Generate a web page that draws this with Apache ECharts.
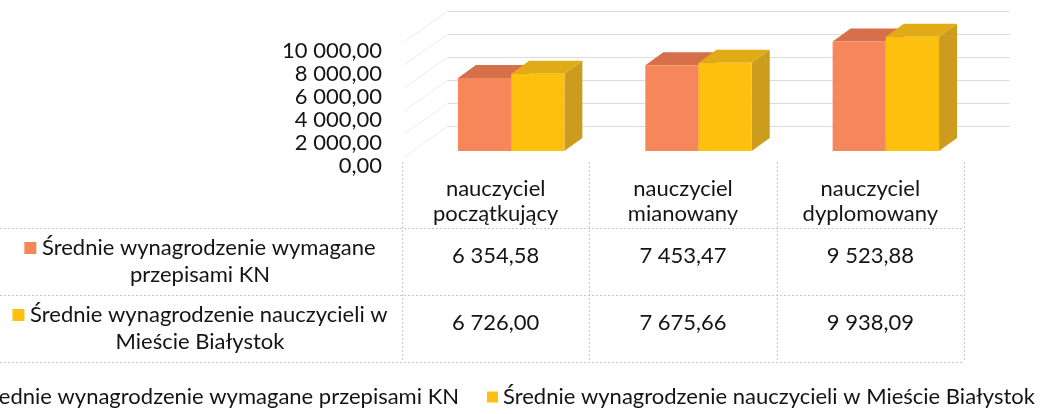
<!DOCTYPE html>
<html>
<head>
<meta charset="utf-8">
<script src="https://cdn.jsdelivr.net/npm/echarts@6/dist/echarts.min.js"></script>
<style>
html, body { margin: 0; padding: 0; background: #fff; }
#chart { width: 1044px; height: 414px; }
</style>
</head>
<body>
<div id="chart"></div>
<script>
// dane
const categories = ['nauczyciel\npoczątkujący', 'nauczyciel\nmianowany', 'nauczyciel\ndyplomowany'];
const seriesNames = ['Średnie wynagrodzenie wymagane przepisami KN', 'Średnie wynagrodzenie nauczycieli w Mieście Białystok'];
const rowLabels = ['Średnie wynagrodzenie wymagane\nprzepisami KN', 'Średnie wynagrodzenie nauczycieli w\nMieście Białystok'];
const wymagane = [6354.58, 7453.47, 9523.88];
const bialystok = [6726.00, 7675.66, 9938.09];
const yTicks = [0, 2000, 4000, 6000, 8000, 10000, 12000];

const FONT = 'Lato';
const FS = 22;
const TXT = '#141414';
const colors = [
  { front: '#F5875B', top: '#D6704B', side: '#C8643F' },
  { front: '#FEC00F', top: '#E1AB17', side: '#CB9C1D' }
];
const BAR_W = 0.284;      // część szerokości kategorii
const SHIFT = [15.5, -12]; // przód słupków względem osi
const DEPTH = [18, -13];   // głębokość 3D
const WALL = [-44, 31];    // ściana boczna
const TABLE_ROWS = [162, 228, 295, 362];
const ROW_HEAD_X = 200;

function fmt(v) {
  const p = v.toFixed(2).split('.');
  return p[0].replace(/\B(?=(\d{3})+$)/g, ' ') + ',' + p[1];
}

function barRenderer(k) {
  const c = colors[k];
  return function (params, api) {
    const i = api.value(0), v = api.value(1);
    const base = api.coord([i, 0]);
    const top = api.coord([i, v]);
    const w = api.size([1, 0])[0] * BAR_W;
    const x0 = base[0] + SHIFT[0] - w + k * w;
    const x1 = x0 + w;
    const yb = base[1] + SHIFT[1], yt = top[1] + SHIFT[1];
    const dx = DEPTH[0], dy = DEPTH[1];
    return {
      type: 'group',
      children: [
        { type: 'polygon', shape: { points: [[x1, yb], [x1 + dx, yb + dy], [x1 + dx, yt + dy], [x1, yt]] }, style: { fill: c.side } },
        { type: 'polygon', shape: { points: [[x0, yt], [x1, yt], [x1 + dx, yt + dy], [x0 + dx, yt + dy]] }, style: { fill: c.top } },
        { type: 'rect', shape: { x: x0, y: yt, width: w, height: yb - yt }, style: { fill: c.front } }
      ]
    };
  };
}

const chart = echarts.init(document.getElementById('chart'), null, { renderer: 'canvas' });

const valueAxisRow = (data, offset) => ({
  type: 'category', gridIndex: 0, position: 'bottom', offset: offset,
  data: categories,
  axisLine: { show: false }, axisTick: { show: false },
  axisLabel: {
    margin: 0, fontFamily: FONT, fontSize: FS, color: TXT, lineHeight: 25,
    formatter: (val, idx) => fmt(data[idx])
  }
});

const option = {
  animation: false,
  textStyle: { fontFamily: FONT },
  grid: [
    { left: 402, right: 80, top: 25, bottom: 251 },
    { left: 448, right: 34, top: 11, bottom: 265 }
  ],
  xAxis: [
    {
      type: 'category', gridIndex: 0, data: categories,
      axisLine: { show: false }, axisTick: { show: false },
      axisLabel: { margin: 13, fontFamily: FONT, fontSize: FS, color: TXT, lineHeight: 25, interval: 0 }
    },
    { type: 'value', gridIndex: 1, min: 0, max: 1, show: false },
    valueAxisRow(wymagane, 80),
    valueAxisRow(bialystok, 147)
  ],
  yAxis: [
    {
      type: 'value', gridIndex: 0, min: yTicks[0], max: yTicks[yTicks.length - 1], interval: 2000,
      axisLine: { show: false }, axisTick: { show: false }, splitLine: { show: false },
      axisLabel: {
        margin: 20, showMaxLabel: false,
        formatter: v => '{a|' + fmt(v) + '}',
        rich: { a: { padding: [6, 0, 0, 0], fontFamily: FONT, fontSize: FS, color: TXT } }
      }
    },
    {
      type: 'value', gridIndex: 1, min: yTicks[0], max: yTicks[yTicks.length - 1], interval: 2000,
      axisLine: { show: false }, axisTick: { show: false }, axisLabel: { show: false },
      splitLine: { show: true, showMinLine: false, lineStyle: { color: '#dcdcdc', width: 1 } }
    }
  ],
  legend: {
    type: 'plain', data: seriesNames, right: 4, top: 381, width: 1600,
    icon: 'rect', itemWidth: 11, itemHeight: 11, itemGap: 28,
    textStyle: { fontFamily: FONT, fontSize: FS, color: TXT }
  },
  series: [
    {
      type: 'custom', xAxisIndex: 1, yAxisIndex: 1, silent: true,
      data: yTicks.filter(v => v > 0).map(v => [0, v]),
      renderItem: (params, api) => {
        const p = api.coord([0, api.value(1)]);
        return { type: 'line', shape: { x1: p[0] + WALL[0], y1: p[1] + WALL[1], x2: p[0], y2: p[1] }, style: { stroke: '#ebebeb', lineWidth: 1 } };
      }
    },
    {
      name: seriesNames[0], type: 'custom', xAxisIndex: 0, yAxisIndex: 0,
      itemStyle: { color: colors[0].front }, encode: { x: 0, y: 1 },
      data: wymagane.map((v, i) => [i, v]), renderItem: barRenderer(0)
    },
    {
      name: seriesNames[1], type: 'custom', xAxisIndex: 0, yAxisIndex: 0,
      itemStyle: { color: colors[1].front }, encode: { x: 0, y: 1 },
      data: bialystok.map((v, i) => [i, v]), renderItem: barRenderer(1)
    }
  ]
};

chart.setOption(option);

// tabela danych pod wykresem
const c0 = chart.convertToPixel({ xAxisIndex: 0 }, 0);
const c1 = chart.convertToPixel({ xAxisIndex: 0 }, 1);
const band = c1 - c0;
const edges = [0, 1, 2, 3].map(k => c0 - band / 2 + k * band);
const lineStyle = { stroke: '#c8c8c8', lineWidth: 1, lineDash: [2, 2] };
const graphics = [];
edges.forEach(x => graphics.push({
  type: 'line', silent: true,
  shape: { x1: Math.round(x) + 0.5, y1: TABLE_ROWS[0], x2: Math.round(x) + 0.5, y2: TABLE_ROWS[3] },
  style: lineStyle
}));
TABLE_ROWS.slice(1).forEach(y => graphics.push({
  type: 'line', silent: true,
  shape: { x1: 0, y1: y + 0.5, x2: edges[3], y2: y + 0.5 },
  style: lineStyle
}));
rowLabels.forEach((t, r) => graphics.push({
  type: 'text', silent: true,
  x: ROW_HEAD_X, y: (TABLE_ROWS[r + 1] + TABLE_ROWS[r + 2]) / 2,
  style: {
    text: '{sq|}' + ' ' + t,
    align: 'center', verticalAlign: 'middle',
    fontFamily: FONT, fontSize: FS, fill: TXT, lineHeight: 27,
    rich: { sq: { width: 12, height: 12, backgroundColor: colors[r].front } }
  }
}));
chart.setOption({ graphic: graphics });
</script>
</body>
</html>
